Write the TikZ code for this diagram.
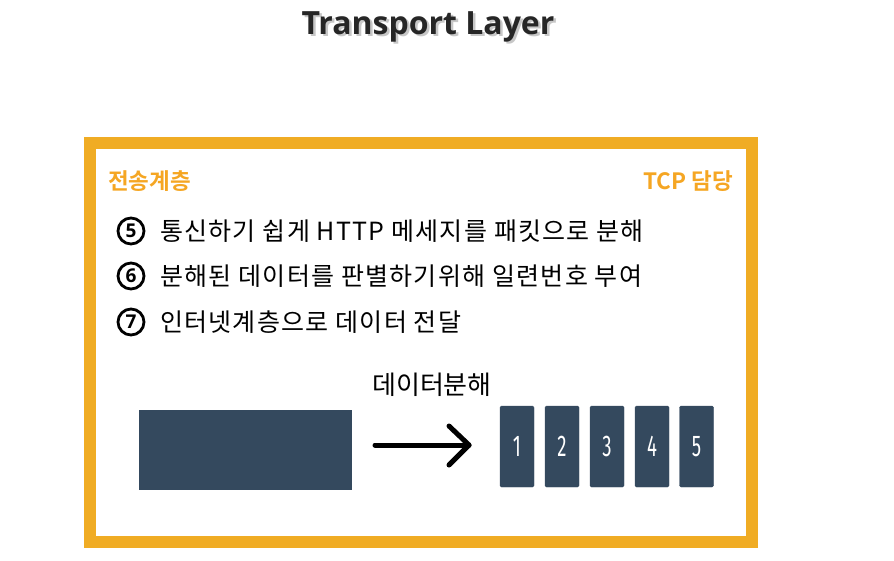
\documentclass[tikz,border=0pt]{standalone}
\usepackage{fontspec}
\setmainfont{Open Sans}
\newfontfamily\kr{Noto Sans CJK KR}
\newfontfamily\krsp[LetterSpace=5]{Noto Sans CJK KR}
\newfontfamily\krb{Noto Sans CJK KR Bold}
\newfontfamily\numfont{Fira Sans}
\usetikzlibrary{arrows.meta}
\definecolor{frameorange}{HTML}{F0AC24}
\definecolor{labelorange}{HTML}{F5A623}
\definecolor{slate}{HTML}{34495E}
\newcommand{\pnum}[1]{\scalebox{0.62}[1]{#1}}
\newcommand{\shadowed}[1]{\rlap{\hspace{2.5pt}\raisebox{-2.5pt}{\color{black!22}#1}}#1}
\tikzset{
  titletext/.style={font=\fontsize{32}{36}\selectfont\bfseries, text=black!85},
  orangelabel/.style={font=\krb\fontsize{22.5}{26}\selectfont, text=labelorange},
  itemtext/.style={font=\krsp\fontsize{25}{28}\selectfont, anchor=west, inner sep=0pt},
  circnum/.style={circle, draw=black, line width=2.8pt, minimum size=26pt, inner sep=0pt, font=\fontsize{19}{20}\selectfont\bfseries},
  packet/.style={fill=slate, draw=slate, rounded corners=1.5pt, minimum width=34pt, minimum height=81pt, inner sep=0pt, text=white, font=\numfont\fontsize{30}{32}\selectfont},
}
\begin{document}
\begin{tikzpicture}[x=1pt,y=-1pt]
\useasboundingbox (0,0) rectangle (894,560);
% title with shadow
\node[titletext] (title) at (428,28) {\shadowed{Transport Layer}};
% frame
\draw[frameorange, line width=12pt] (90,143) rectangle (752,542);
% labels
\node[orangelabel, anchor=west, inner sep=0pt] (lbl1) at (108,181) {전송계층};
\node[orangelabel, anchor=east, inner sep=0pt] (lbl2) at (733,181) {TCP 담당};
% items
\node[circnum] (c5) at (131,231) {5};
\node[itemtext] (t5) at (160,231) {통신하기 쉽게 HTTP 메세지를 패킷으로 분해};
\node[circnum] (c6) at (131,276) {6};
\node[itemtext] (t6) at (160,276) {분해된 데이터를 판별하기위해 일련번호 부여};
\node[circnum] (c7) at (131,322) {7};
\node[itemtext] (t7) at (160,322) {인터넷계층으로 데이터 전달};
% data split
\node[font=\kr\fontsize{26}{28}\selectfont, inner sep=0pt] (split) at (432,385) {데이터분해};
\node[fill=slate, minimum width=213pt, minimum height=80pt, inner sep=0pt] (data) at (245.5,450) {};
\node[packet] (p1) at (517,446.5) {\pnum{1}};
\node[packet] (p2) at (562,446.5) {\pnum{2}};
\node[packet] (p3) at (607,446.5) {\pnum{3}};
\node[packet] (p4) at (652,446.5) {\pnum{4}};
\node[packet] (p5) at (696.5,446.5) {\pnum{5}};
\coordinate (as) at (375,445);
\coordinate (ae) at (469,445);
\draw[line width=5pt, line cap=round] (as) -- (ae);
\draw[line width=5pt, line cap=round, line join=round] (ae) ++(-20,-19) -- (ae) -- ++(-20,20);
\end{tikzpicture}
\end{document}
